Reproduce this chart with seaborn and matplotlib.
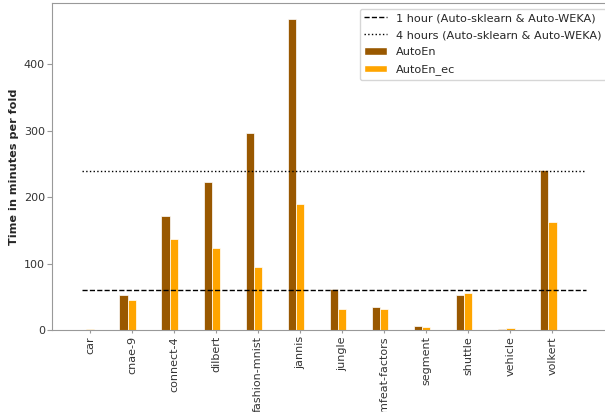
import matplotlib
matplotlib.use("Agg")
import matplotlib.pyplot as plt
from matplotlib.lines import Line2D
from matplotlib.patches import Patch
import seaborn as sns
import pandas as pd

# values (minutes per fold)
datasets = ['car', 'cnae-9', 'connect-4', 'dilbert', 'fashion-mnist', 'jannis',
            'jungle', 'mfeat-factors', 'segment', 'shuttle', 'vehicle', 'volkert']
autoen = [0.3, 52, 172, 223, 296, 469, 62, 34, 6.5, 53, 1.5, 240.5]
autoen_ec = [1, 45, 137, 124, 95, 189, 32, 32, 5, 56, 2.5, 162]
one_hour = 60
four_hours = 240

methods = ['AutoEn', 'AutoEn_ec']
colors = ['#995800', '#ffa500']

sns.set_style('ticks')
plt.rcParams['font.family'] = ['DejaVu Sans']

df = pd.DataFrame({
    'dataset': datasets * 2,
    'method': [methods[0]] * len(datasets) + [methods[1]] * len(datasets),
    'minutes': autoen + autoen_ec,
})

fig = plt.figure(figsize=(6.05, 4.12), dpi=100)
ax = fig.add_axes([52 / 605, 1 - 330 / 412, 559.4 / 605, 327 / 412])

# third (empty) hue slot keeps the original grouping of three bars per dataset
sns.barplot(data=df, x='dataset', y='minutes', hue='method',
            hue_order=methods + ['(none)'], palette=colors + ['#ffffff'],
            width=0.6, saturation=1, errorbar=None, legend=False,
            edgecolor='white', linewidth=0.5, ax=ax)

ax.hlines(one_hour, -0.2, 11.8, colors='black', linestyles='--', linewidth=1)
ax.hlines(four_hours, -0.2, 11.8, colors='black', linestyles=':', linewidth=1)

ax.set_xlim(-0.905, 12.405)
ax.set_ylim(0, max(autoen) * 1.05)
ax.set_yticks([0, 100, 200, 300, 400])
ax.set_xlabel('')
ax.set_ylabel('Time in minutes per fold', fontsize=8.1, fontweight='bold',
              labelpad=3.5)
ax.tick_params(axis='x', labelrotation=90, length=2.5, pad=2, labelsize=8)
ax.tick_params(axis='y', length=3.5, pad=1.5, labelsize=8)
ax.tick_params(colors='0.6', labelcolor='0.2')

for side in ['left', 'bottom', 'top', 'right']:
    ax.spines[side].set_color('0.6')
    ax.spines[side].set_visible(True)

handles = [
    Line2D([], [], color='black', linestyle='--', linewidth=1),
    Line2D([], [], color='black', linestyle=':', linewidth=1),
    Patch(facecolor=colors[0]),
    Patch(facecolor=colors[1]),
]
labels = ['1 hour (Auto-sklearn & Auto-WEKA)', '4 hours (Auto-sklearn & Auto-WEKA)',
          'AutoEn', 'AutoEn_ec']
ax.legend(handles, labels, loc='upper right', fontsize=8.1, frameon=True,
          labelspacing=0.63)

fig.savefig('out.png', dpi=100)
